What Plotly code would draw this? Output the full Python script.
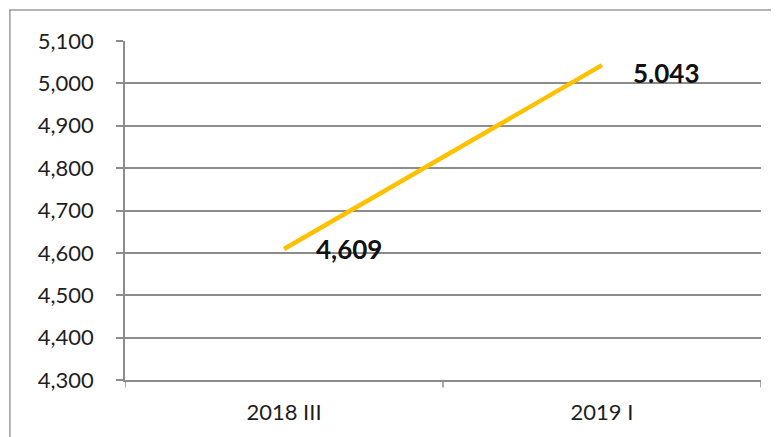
import plotly.graph_objects as go

categories = ["2018 III", "2019 I"]
values = [4609, 5043]
value_labels = ["4,609", "5.043"]
y_ticks = [4300, 4400, 4500, 4600, 4700, 4800, 4900, 5000, 5100]
y_tick_labels = ["4,300", "4,400", "4,500", "4,600", "4,700", "4,800", "4,900", "5,000", "5,100"]

FONT = "Lato, Open Sans, Liberation Sans, sans-serif"

fig = go.Figure()
fig.add_trace(go.Scatter(
    x=[0, 1], y=values, mode="lines",
    line=dict(color="#FFC000", width=4.5),
    hoverinfo="skip", showlegend=False,
))

label_shifts = [(30, 0), (29, -8)]
for i, (v, lab) in enumerate(zip(values, value_labels)):
    fig.add_annotation(
        x=i, y=v, text="<b>%s</b>" % lab, showarrow=False,
        xanchor="left", yanchor="middle",
        xshift=label_shifts[i][0], yshift=label_shifts[i][1],
        font=dict(family=FONT, size=26, color="#111111"),
    )

fig.update_layout(
    width=771, height=429,
    margin=dict(l=117, r=18, t=33, b=57),
    paper_bgcolor="white", plot_bgcolor="white",
    font=dict(family=FONT, size=22, color="#1e1e1e"),
    xaxis=dict(
        range=[-0.5, 1.5], tickmode="array", tickvals=[0, 1], ticktext=categories,
        showgrid=False, zeroline=False, showline=True, linecolor="#8c8c8c", linewidth=1.5,
        ticks="", fixedrange=True, ticklabelstandoff=12,
    ),
    yaxis=dict(
        range=[4300, 5100], tickmode="array", tickvals=y_ticks, ticktext=y_tick_labels,
        showgrid=True, gridcolor="#8c8c8c", gridwidth=1.5, zeroline=False,
        showline=True, linecolor="#8c8c8c", linewidth=1.5,
        ticks="outside", ticklen=7, tickcolor="#8c8c8c", tickwidth=1.5, ticklabelstandoff=18,
    ),
    shapes=[
        dict(type="rect", xref="paper", yref="paper", x0=-0.181, x1=1.6, y0=-0.5, y1=1.0914,
             line=dict(color="#9a9a9a", width=1.5), fillcolor="rgba(0,0,0,0)", layer="below"),
    ] + [
        dict(type="line", xref="x", yref="paper", x0=xv, x1=xv, y0=0, y1=-0.022,
             line=dict(color="#8c8c8c", width=1.5))
        for xv in [-0.5, 0.5, 1.5]
    ],
)

fig.write_html("out.html")
